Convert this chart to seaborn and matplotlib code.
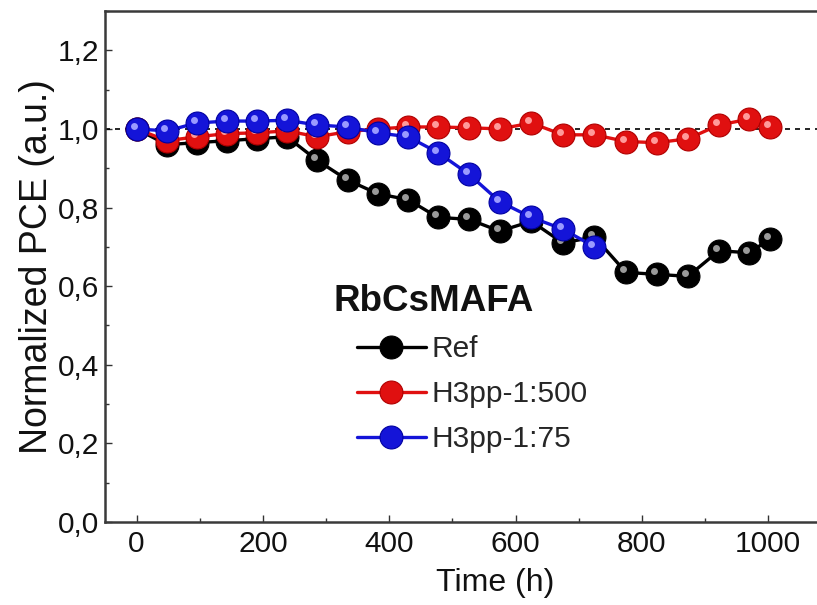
import matplotlib
matplotlib.use("Agg")
import matplotlib.pyplot as plt
import matplotlib.transforms as mtransforms
from matplotlib import font_manager
from matplotlib.ticker import FuncFormatter, MultipleLocator
import seaborn as sns

# stability data
time_h = [0, 48, 95, 143, 190, 238, 286, 334, 382, 430, 477, 526,
          575, 625, 675, 725, 775, 824, 873, 922, 970, 1003]
ref = [1.0, 0.96, 0.965, 0.97, 0.975, 0.98, 0.92, 0.87, 0.835, 0.82, 0.775, 0.77,
       0.74, 0.765, 0.71, 0.725, 0.635, 0.63, 0.625, 0.69, 0.685, 0.72]
h3pp_500 = [1.0, 0.97, 0.98, 0.988, 0.99, 0.995, 0.98, 0.993, 1.0, 1.005, 1.005, 1.003,
            1.0, 1.015, 0.985, 0.985, 0.968, 0.965, 0.975, 1.01, 1.025, 1.005]
time_75 = time_h[:16]
h3pp_75 = [1.0, 0.995, 1.015, 1.02, 1.02, 1.022, 1.01, 1.005, 0.99, 0.98, 0.94, 0.885,
           0.815, 0.775, 0.745, 0.70]

labels = ["Ref", "H3pp-1:500", "H3pp-1:75"]
line_colors = ["#000000", "#e01010", "#1414d8"]
edge_colors = ["#000000", "#b00000", "#0000a0"]
glint_colors = ["#9a9a9a", "#ff9a9a", "#9a9aff"]


def comma_fmt(v, pos):
    return f"{v:.1f}".replace(".", ",")


def main():
    sns.set_theme(style="ticks")
    names = {f.name for f in font_manager.fontManager.ttflist}
    if "Liberation Sans Narrow" in names:
        narrow, k = "Liberation Sans Narrow", 1.18
    else:
        narrow, k = "Liberation Sans", 1.0
    plt.rcParams["font.family"] = ["Liberation Sans", "DejaVu Sans"]

    fig = plt.figure(figsize=(8.17, 6.05), dpi=100)
    # the original picture is cropped on the right, the frame runs past the edge
    ax = fig.add_axes([105 / 817, 1 - 522 / 605, (885 - 105) / 817, (522 - 11) / 605])

    ax.axhline(1.0, color="black", lw=1.2, ls=(0, (3, 3)), zorder=1)

    series = [(time_h, ref), (time_h, h3pp_500), (time_75, h3pp_75)]
    glint = mtransforms.offset_copy(ax.transData, fig=fig, x=-3, y=3, units="dots")
    for i, ((t, v), lab) in enumerate(zip(series, labels)):
        sns.lineplot(x=t, y=v, ax=ax, sort=False, color=line_colors[i], lw=2.4,
                     marker="o", markersize=16.5, markerfacecolor=line_colors[i],
                     markeredgecolor=edge_colors[i], markeredgewidth=0.8,
                     label=lab, zorder=3 + i)
        ax.plot(t, v, "o", ms=5, color=glint_colors[i], mec="none",
                transform=glint, zorder=3.5 + i)

    ax.set_xlim(-50, 1185)
    ax.set_ylim(0, 1.3)
    ax.xaxis.set_major_locator(MultipleLocator(200))
    ax.xaxis.set_minor_locator(MultipleLocator(100))
    ax.yaxis.set_major_locator(MultipleLocator(0.2))
    ax.yaxis.set_minor_locator(MultipleLocator(0.1))
    ax.yaxis.set_major_formatter(FuncFormatter(comma_fmt))

    ax.tick_params(which="both", direction="in", width=1.0, color="#333333")
    ax.tick_params(which="major", length=5)
    ax.tick_params(which="minor", length=3)
    ax.tick_params(axis="x", which="major", pad=6)
    ax.tick_params(axis="y", which="major", pad=4)
    for lbl in ax.get_xticklabels() + ax.get_yticklabels():
        lbl.set_fontfamily(narrow)
        lbl.set_fontsize(21.5 * k)
        lbl.set_color("#111111")
    for s in ax.spines.values():
        s.set_linewidth(1.8)
        s.set_color("#3a3a3a")

    ax.set_xlabel("Time (h)", fontfamily=narrow, fontsize=23 * k, labelpad=7, color="#111111")
    ax.set_ylabel("Normalized PCE (a.u.)", fontsize=27, labelpad=2, color="#111111")

    fig.text(333 / 817, 1 - 311 / 605, "RbCsMAFA", fontsize=26.5, fontweight="bold",
             va="baseline", ha="left", color="#111111")
    ax.legend(loc="upper left", bbox_to_anchor=(357 / 817, 1 - 335 / 605),
              bbox_transform=fig.transFigure, frameon=False, borderpad=0,
              borderaxespad=0, handlelength=2.3, handletextpad=0.2, labelspacing=0.57,
              prop={"family": narrow, "size": 21.5 * k})

    fig.savefig("out.png", dpi=100)


if __name__ == "__main__":
    main()
